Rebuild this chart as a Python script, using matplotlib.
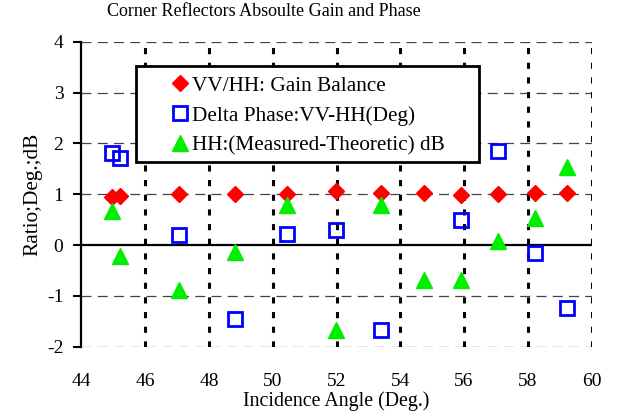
import matplotlib
matplotlib.use("Agg")
import matplotlib.pyplot as plt
from matplotlib.lines import Line2D
from matplotlib.patches import Rectangle

plt.rcParams['font.family'] = ['Liberation Serif', 'DejaVu Serif']
plt.rcParams['axes.unicode_minus'] = False

# Data
angles = [44.95, 45.22, 47.06, 48.80, 50.45, 51.98, 53.40, 54.75, 55.90, 57.07, 58.23, 59.24]
gain_balance = [0.94, 0.96, 1.00, 1.01, 1.01, 1.055, 1.02, 1.02, 0.98, 1.00, 1.02, 1.03]
delta_phase = [1.82, 1.71, 0.20, -1.46, 0.22, 0.29, -1.67, None, 0.50, 1.84, -0.16, -1.23]
hh_diff = [0.67, -0.21, -0.89, -0.13, 0.78, -1.68, 0.79, -0.68, -0.68, 0.085, 0.53, 1.53]

xticks = [44, 46, 48, 50, 52, 54, 56, 58, 60]
yticks = [-2, -1, 0, 1, 2, 3, 4]
labels = ['VV/HH: Gain Balance', 'Delta Phase:VV-HH(Deg)', 'HH:(Measured-Theoretic) dB']

W, H = 618, 419
fig = plt.figure(figsize=(W/100, H/100), dpi=100)
ax = fig.add_axes([81.5/W, 1-346.7/H, (591.5-81.5)/W, (346.7-41.7)/H])
ax.set_xlim(44, 60)
ax.set_ylim(-2, 4)

# grid lines
for yv in yticks:
    if yv != 0:
        ax.axhline(yv, color='#444444', lw=0.9, dashes=(8, 5), zorder=1)
for xv in xticks[1:]:
    ax.axvline(xv, color='black', lw=2.2, dashes=(2.0, 2.8), zorder=1)
ax.axhline(0, color='black', lw=1.6, zorder=2)

dp_x = [a for a, d in zip(angles, delta_phase) if d is not None]
dp_y = [d for d in delta_phase if d is not None]

ax.plot(angles, gain_balance, ls='none', marker='D', ms=8.5, color='#ff0000', mec='#ff0000', zorder=4)
ax.plot(dp_x, dp_y, ls='none', marker='s', ms=10, mfc='none', mec='#0000ff', mew=2, zorder=4)
ax.plot(angles, hh_diff, ls='none', marker='^', ms=12, color='#00ee00', mec='#00ee00', zorder=4)

for s in ['top', 'right', 'bottom']:
    ax.spines[s].set_visible(False)
ax.spines['left'].set_linewidth(1.6)

ax.set_xticks(xticks)
ax.set_yticks(yticks)
ax.tick_params(axis='x', length=0, pad=19, labelsize=14)
ax.tick_params(axis='y', direction='out', length=6, width=1.5, pad=7, labelsize=14)

ax.set_xlabel('Incidence Angle (Deg.)', fontsize=14.3, labelpad=1)
ax.set_ylabel('Ratio;Deg.;dB', fontsize=15.3, labelpad=3)
fig.text(264/W, 1-12/H, 'Corner Reflectors Absoulte Gain and Phase', ha='center', va='center', fontsize=13)

# legend frame drawn as rectangle
frame = Rectangle((135.7/W, 1-162.3/H), (479.3-135.7)/W, (162.3-66)/H,
                  transform=fig.transFigure, facecolor='white', edgecolor='black',
                  lw=2, zorder=5)
fig.add_artist(frame)

handles = [
    Line2D([], [], ls='none', marker='D', ms=8.5, color='#ff0000'),
    Line2D([], [], ls='none', marker='s', ms=10, mfc='none', mec='#0000ff', mew=2),
    Line2D([], [], ls='none', marker='^', ms=12, color='#00ee00'),
]
leg = fig.legend(handles, labels, loc='upper left',
                 bbox_to_anchor=(169/W, 1-76/H), bbox_transform=fig.transFigure,
                 fontsize=15.3, frameon=False, handlelength=1.0,
                 handletextpad=0.08, labelspacing=0.47, borderaxespad=0, borderpad=0)
leg.set_zorder(6)

fig.savefig('out.png', dpi=100)
